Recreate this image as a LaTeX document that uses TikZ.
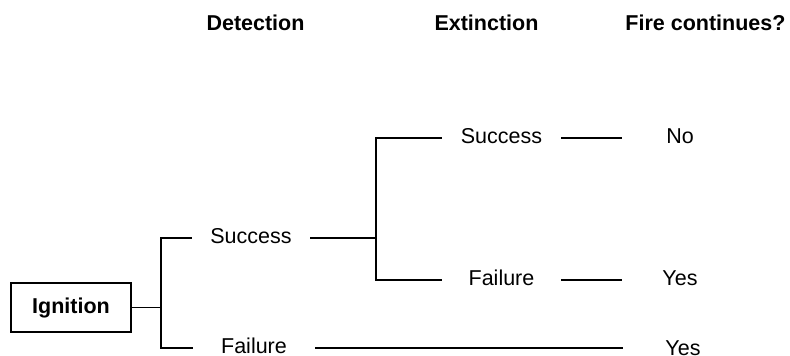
\documentclass[tikz,border=0pt]{standalone}
\usepackage{fontspec}
\setmainfont{Liberation Sans}
\begin{document}
\begin{tikzpicture}[x=1pt,y=-1pt,
  every node/.style={font=\fontsize{21.5}{24}\selectfont, inner sep=0pt,
    text height=15.5pt, text depth=4.3pt},
  head/.style={font=\fontsize{21.5}{24}\selectfont\bfseries, anchor=base},
  startbox/.style={draw, line width=1.3pt, minimum width=120, minimum height=49,
    font=\fontsize{21.5}{24}\selectfont\bfseries},
  branch/.style={line width=1.3pt},
  trunk/.style={line width=2pt}]
\useasboundingbox (0,0) rectangle (790,356);

% column headings
\node[head] (hdet) at (255.5,30) {Detection};
\node[head] (hext) at (486.5,30) {Extinction};
\node[head] (hfire) at (705.5,30) {Fire continues?};

% initiating event
\node[startbox] (ign) at (71,307.5) {Ignition};

% detection outcomes
\node[minimum width=118] (dS) at (251,238) {Success};
\node[minimum width=122] (dF) at (254,348) {Failure};

% extinction outcomes
\node[minimum width=119] (eS) at (501.5,138) {Success};
\node[minimum width=119] (eF) at (501.5,280) {Failure};

% end states
\node[minimum width=116] (oNo) at (680,138) {No};
\node[minimum width=116] (oY1) at (680,280) {Yes};
\node[minimum width=120] (oY2) at (683,350) {Yes};

% branching points
\coordinate (j1) at (161,0);
\coordinate (j2) at (376,0);

% detection split
\draw[branch] (ign.east) -- (ign.east -| j1);
\draw[branch] (dS.west) -- (dS.west -| j1) -- (dF.west -| j1) -- (dF.west);

% extinction split
\draw[trunk] (dS.east) -- (dS.east -| j2);
\draw[branch] (eS.west) -- (eS.west -| j2) -- (eF.west -| j2) -- (eF.west);

% lines to end states
\draw[branch] (eS.east) -- (oNo.west);
\draw[branch] (eF.east) -- (oY1.west);
\draw[branch] (dF.east) -- (dF.east -| oY2.west);
\end{tikzpicture}
\end{document}
